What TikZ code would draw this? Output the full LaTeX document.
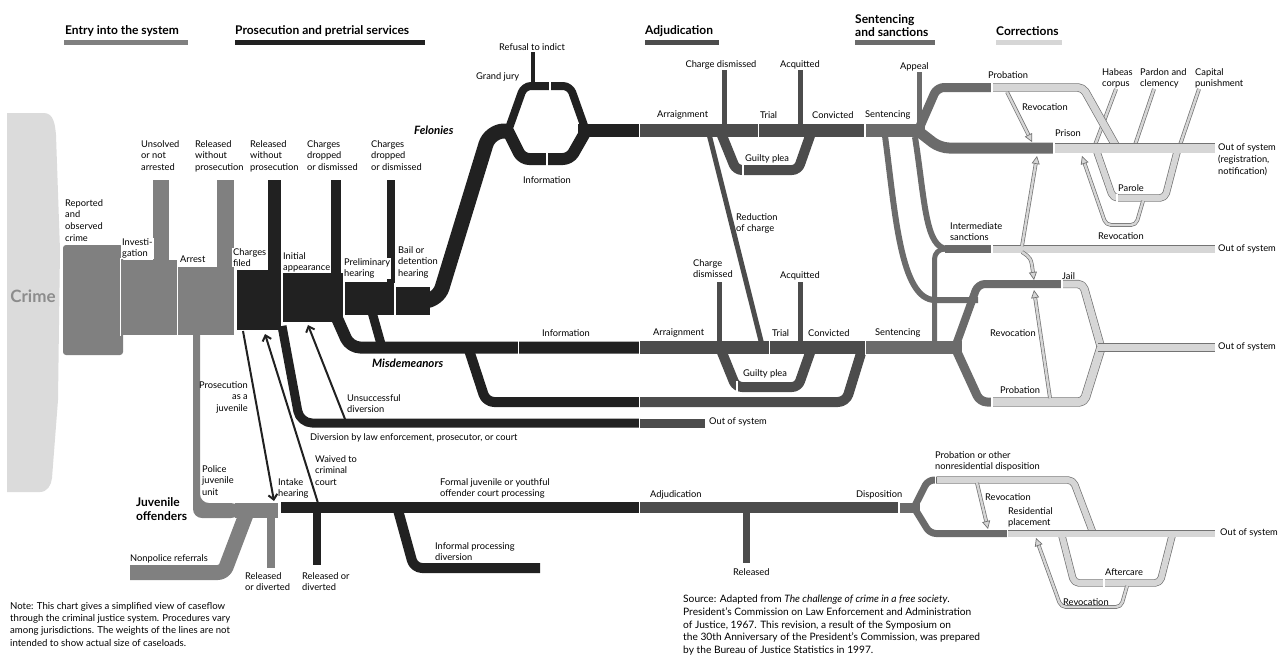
\documentclass[tikz,border=0pt]{standalone}
\usepackage{fontspec}
\setmainfont{Lato}
\usetikzlibrary{arrows.meta}
\definecolor{cCrime}{gray}{0.86}
\definecolor{cCrimeText}{gray}{0.55}
\definecolor{cEntry}{gray}{0.5}
\definecolor{cPros}{gray}{0.13}
\definecolor{cAdj}{gray}{0.3}
\definecolor{cSent}{gray}{0.42}
\definecolor{cCorr}{gray}{0.84}
\definecolor{cEdge}{gray}{0.45}
\newcommand\labfont{\fontsize{9.3}{11.8}\selectfont}
\newcommand\hdrfont{\bfseries\fontsize{12}{13.5}\selectfont}
\newcommand\notefont{\fontsize{9.6}{12.3}\selectfont}

\begin{document}
\begin{tikzpicture}[x=1pt, y=-1pt, line join=round, line cap=butt,
  lab/.style={font=\labfont, inner sep=0pt, align=left, anchor=north west},
  blab/.style={lab, fill=white, inner xsep=1pt, xshift=-1pt},
  hdr/.style={font=\hdrfont, inner sep=0pt, anchor=west},
  flab/.style={font=\bfseries\itshape\fontsize{11.5}{13}\selectfont, inner sep=0pt, anchor=north west},
  corr/.style={draw=cEdge, line width=0.7pt, double=cCorr, double distance=#1, rounded corners=5pt},
  carrow/.style={corr=2.4pt, -{Triangle[open, length=8pt, width=8pt, line width=0.7pt, fill=cCorr]}},
  arr/.style={draw=cPros, line width=2pt, -{Straight Barb[length=5pt, width=9pt]}}]
\def \W{1282}
\def \H{657}
\useasboundingbox (0,0) rectangle (\W,\H);

% headers
\node[hdr] (hEntry) at (65,31) {Entry into the system};
\fill[cEntry] (64,40) rectangle (188,45);
\node[hdr] (hPros) at (235,31) {Prosecution and pretrial services};
\fill[cPros] (235,40) rectangle (425,45);
\node[hdr] (hAdj) at (645,31) {Adjudication};
\fill[cAdj] (645,40) rectangle (719,45);
\node[hdr, anchor=south west, align=left] (hSent) at (855,37) {Sentencing\\and sanctions};
\fill[cSent] (855,40) rectangle (935,45);
\node[hdr] (hCorr) at (996,31) {Corrections};
\fill[cCorr] (996,40) rectangle (1062,45);

% crime
\fill[cCrime] (7,113) -- (44,113) to[out=0,in=95] (56,135) -- (60,250) -- (58,400) -- (52,478) to[out=-95,in=0] (40,492) -- (7,492) -- cycle;
\node[font=\bfseries\fontsize{17}{20}\selectfont, text=cCrimeText, inner sep=0pt] (crime) at (33,296) {Crime};

% entry into the system
\fill[cEntry, rounded corners=3pt] (63,245) rectangle (123,355);
\fill[cEntry] (121,260) rectangle (177,335);
\fill[cEntry] (153,180) rectangle (169,262);
\fill[cEntry, rounded corners=9pt] (193,310) -- (193,518) -- (240,518) -- (240,503) -- (200,503) -- (200,310) -- cycle;
\fill[cEntry] (235,503) rectangle (278,518);
\fill[cEntry] (178,267) rectangle (234,335);
\fill[cEntry] (217,180) rectangle (234,268);
\draw[cEntry, line width=15pt, rounded corners=6pt] (130,572.5) -- (224,572.5) -- (247,512);
\fill[cEntry] (267,516) rectangle (275,568);

% prosecution and pretrial services
\fill[cPros] (237,270) rectangle (281,330);
\fill[cPros] (268,180) rectangle (281,271);
\fill[cPros] (283,273) rectangle (343,322);
\fill[cPros] (331,180) rectangle (341,274);
\fill[cPros] (345,282) rectangle (394,315);
\fill[cPros] (387,180) rectangle (395,283);
\fill[cPros] (396,287) rectangle (430,315);
\draw[cPros, line width=15pt, rounded corners=14pt] (420,301) -- (438,301) -- (490,131) -- (512,131);
\draw[cPros, line width=12pt, rounded corners=10pt] (336,316) -- (350,347.5) -- (640,347.5);
\draw[cPros, line width=9pt] (372,312) -- (381,344);
\draw[cPros, line width=9pt, rounded corners=12pt] (282,326) -- (300,423) -- (640,423);
\draw[cAdj, line width=9pt] (640,423) -- (705,423);
\draw[cPros, line width=8pt, rounded corners=7pt] (508,131) -- (524,86) -- (570,86) -- (586,131);
\draw[cPros, line width=12pt, rounded corners=7pt] (508,131) -- (522,159) -- (570,159) -- (586,131);
\draw[cPros, line width=4pt] (533,52) -- (533,84);
\draw[cPros, line width=13pt] (578,130.5) -- (640,130.5);
\draw[cPros, line width=10pt, rounded corners=8pt] (469,350) -- (486,402) -- (640,402);

% adjudication
\draw[cAdj, line width=13pt] (640,130.5) -- (864,130.5);
\draw[cAdj, line width=5pt] (724.5,70) -- (724.5,128);
\draw[cAdj, line width=5pt] (800.5,70) -- (800.5,128);
\draw[cAdj, line width=10pt, rounded corners=6pt] (721,133) -- (736,170) -- (798,170) -- (811,133);
\draw[cAdj, line width=5pt] (709,134) -- (762,345);
\draw[cAdj, line width=13pt] (640,347.5) -- (865,347.5);
\draw[cAdj, line width=5pt] (719.5,282) -- (719.5,344);
\draw[cAdj, line width=5pt] (800.5,282) -- (800.5,344);
\draw[cAdj, line width=10pt, rounded corners=6pt] (721,350) -- (736,387) -- (798,387) -- (811,350);
\draw[cAdj, line width=10pt, rounded corners=8pt] (640,402) -- (846,402) -- (862,350);

% juveniles
\draw[cPros, line width=11pt] (281,507.5) -- (640,507.5);
\draw[cAdj, line width=11pt] (640,507.5) -- (899,507.5);
\fill[cPros] (313,512) rectangle (321,565);
\draw[cPros, line width=10pt, rounded corners=8pt] (398,510) -- (414,568) -- (540,568);
\fill[cAdj] (743,512) rectangle (750,563);
\draw[cSent, line width=7pt, rounded corners=6pt] (914,507.5) -- (928,480) -- (937,480);
\draw[cSent, line width=7pt, rounded corners=6pt] (914,507.5) -- (930,533.5) -- (1007,533.5);
\draw[cSent, line width=10pt] (899,507.5) -- (920,507.5);
\draw[corr=6pt] (937,480) -- (1073,480) -- (1093,533);
\draw[corr=6pt] (1062,536) -- (1074,583) -- (1160,583) -- (1172,536);
\draw[carrow] (1127,586) -- (1121,607) -- (1061,607) -- (1036,538);
\draw[corr=6pt] (1008,533.5) -- (1215,533.5);
\draw[carrow] (977,483) -- (988,529);

% arrows
\draw[arr] (345,419) -- (308,325);
\draw[arr] (243,331) -- (274,501);
\draw[arr] (318,503) -- (265,334);

% sentencing and sanctions
\draw[cSent, line width=6pt] (885,136) .. controls (895,210) and (900,300) .. (935,300) -- (978,300);
\draw[cSent, line width=6pt] (915,137) .. controls (925,200) and (925,249) .. (948,249);
\draw[cSent, line width=13pt] (866,130.5) -- (925,130.5);
\draw[cSent, line width=5pt] (919.5,72) -- (919.5,128);
\draw[cSent, line width=9pt, rounded corners=7pt] (918,131) -- (937,87.5) -- (991,87.5);
\draw[cSent, line width=11pt, rounded corners=9pt] (918,131) -- (940,148) -- (1053,148);
\draw[cSent, line width=8pt] (945,249) -- (991,249);
\draw[cSent, line width=5pt, rounded corners=10pt] (934.5,346) -- (934.5,249) -- (950,249);
\draw[cSent, line width=8pt, rounded corners=7pt] (955,347.5) -- (978,284) -- (1061,284);
\draw[cSent, line width=9pt, rounded corners=7pt] (955,347.5) -- (980,402) -- (991,402);
\draw[cSent, line width=13pt] (866,347.5) -- (962,347.5);

% corrections
\draw[corr=6pt] (1097,152) -- (1113,198) -- (1165,198) -- (1177,152);
\draw[carrow] (1143,201) -- (1136,225) -- (1106,225) -- (1082,156);
\draw[corr=2.5pt] (1095,145) -- (1116,89);
\draw[corr=2.5pt] (1135,145) -- (1154,89);
\draw[corr=2.5pt] (1180,145) -- (1199,89);
\draw[corr=7pt] (993,87.5) -- (1083,87.5) -- (1117,148);
\draw[corr=9pt] (1055,148) -- (1215,148);
\draw[carrow] (1007,92) -- (1032,142);
\draw[corr=7pt] (993,249) -- (1215,249);
\draw[carrow] (1022,252) .. controls (1031,258) .. (1034,280);
\draw[carrow] (1022,246) -- (1037,156);
\draw[corr=7pt] (1063,284) -- (1083,284) -- (1101,347.5);
\draw[corr=8pt] (993,402) -- (1084,402) -- (1101,347.5);
\draw[corr=7pt] (1098,347.5) -- (1215,347.5);
\draw[carrow] (1050,398) -- (1034,290);

% breaks between stages
\foreach \x/\ya/\yb in {120.5/258/336, 177.5/258/336, 550/80/92, 547/152/166, 639.5/123/138, 758.5/123/138, 864.5/123/138,
  743/164/176, 518.5/340/355, 639.5/340/355, 769.5/340/355, 865.5/340/355, 737/381/393, 639.5/396/408, 639.5/418/428,
  639.5/501/514, 899/501/514, 991.5/82/93, 1053.5/142/154, 991.5/244/254, 1061.5/279/289, 991.5/396/408,
  935.5/476/484, 1007.5/529/538, 1104/579/587, 1117/194/202}
  \draw[white, line width=1.5pt] (\x,\ya) -- (\x,\yb);

% labels, entry and pretrial
\node[lab] (lUnsolved) at (141,140) {Unsolved\\or not\\arrested};
\node[lab] (lRel1) at (195,140) {Released\\without\\prosecution};
\node[lab] (lRel2) at (250,140) {Released\\without\\prosecution};
\node[lab] (lDrop1) at (307,140) {Charges\\dropped\\or dismissed};
\node[lab] (lDrop2) at (371,140) {Charges\\dropped\\or dismissed};
\node[lab] (lReported) at (65,199) {Reported\\and\\observed\\crime};
\node[blab] (lInvest) at (122,238) {Investi-\\gation};
\node[lab] (lArrest) at (180,256) {Arrest};
\node[blab] (lFiled) at (233,248) {Charges\\filed};
\node[lab] (lInitial) at (283,252) {Initial\\appearance};
\node[blab] (lPrelim) at (344,258) {Preliminary\\hearing};
\node[lab] (lBail) at (398,246) {Bail or\\detention\\hearing};
\node[flab] (lFel) at (414,126) {Felonies};
\node[flab] (lMisd) at (372,359) {Misdemeanors};
\node[lab, align=right, anchor=north east] (lProsJuv) at (248,381) {Prosecution\\as a\\juvenile};
\node[lab] (lUnsucc) at (347,394) {Unsuccessful\\diversion};
\node[lab] (lDiv) at (310,433) {Diversion by law enforcement, prosecutor, or court};
\node[lab] (lOut1) at (709,418) {Out of system};

% labels, juveniles
\node[lab] (lPolice) at (202,465) {Police\\juvenile\\unit};
\node[flab, font=\bfseries\fontsize{12}{14}\selectfont, align=left] (lJuv) at (136,497) {Juvenile\\offenders};
\node[lab] (lIntake) at (278,478) {Intake\\hearing};
\node[lab] (lWaived) at (315,455) {Waived to\\criminal\\court};
\node[lab] (lNonpol) at (130,554) {Nonpolice referrals};
\node[lab] (lRelDiv1) at (245,572) {Released\\or diverted};
\node[lab] (lRelDiv2) at (302,572) {Released or\\diverted};
\node[lab] (lInformal) at (435,542) {Informal processing\\diversion};
\node[lab] (lFormal) at (440,478) {Formal juvenile or youthful\\offender court processing};
\node[lab] (lJAdj) at (650,490) {Adjudication};
\node[lab] (lReleased) at (733,568) {Released};
\node[lab] (lDisp) at (856,490) {Disposition};

% labels, adjudication
\node[lab, anchor=north] (lRefusal) at (532,43) {Refusal to indict};
\node[lab] (lGrand) at (476,72) {Grand jury};
\node[lab, anchor=north] (lInfo1) at (547,176) {Information};
\node[lab, anchor=north] (lCD1) at (721,60) {Charge dismissed};
\node[lab, anchor=north] (lAcq1) at (800,60) {Acquitted};
\node[lab] (lArr1) at (657,111) {Arraignment};
\node[lab] (lTrial1) at (760,111) {Trial};
\node[lab] (lConv1) at (812,111) {Convicted};
\node[lab] (lSent1) at (865,111) {Sentencing};
\node[lab] (lGuilty1) at (745,154) {Guilty plea};
\node[lab] (lReduct) at (736,213) {Reduction\\of charge};
\node[lab, anchor=north] (lInfo2) at (566,329) {Information};
\node[lab] (lArr2) at (653,329) {Arraignment};
\node[lab] (lCD2) at (693,259) {Charge\\dismissed};
\node[lab] (lAcq2) at (780,271) {Acquitted};
\node[lab] (lTrial2) at (772,329) {Trial};
\node[lab] (lConv2) at (808,329) {Convicted};
\node[lab] (lGuilty2) at (743,369) {Guilty plea};
\node[lab] (lSent2) at (875,329) {Sentencing};

% labels, sentencing and corrections
\node[lab] (lAppeal) at (900,62) {Appeal};
\node[lab] (lProb1) at (988,71) {Probation};
\node[lab] (lRev1) at (1022,103) {Revocation};
\node[lab] (lPrison) at (1055,130) {Prison};
\node[lab] (lHabeas) at (1102,68) {Habeas\\corpus};
\node[lab] (lPardon) at (1140,68) {Pardon and\\clemency};
\node[lab] (lCapital) at (1195,68) {Capital\\punishment};
\node[lab] (lOut2) at (1218,144) {Out of system\\(registration,\\notification)};
\node[lab] (lParole) at (1118,184) {Parole};
\node[lab] (lRev2) at (1098,232) {Revocation};
\node[lab] (lInter) at (950,222) {Intermediate\\sanctions};
\node[lab] (lOut3) at (1218,245) {Out of system};
\node[lab] (lJail) at (1062,272) {Jail};
\node[lab] (lRev3) at (990,329) {Revocation};
\node[lab] (lOut4) at (1218,343) {Out of system};
\node[lab] (lProb2) at (1000,386) {Probation};
\node[lab] (lProbOther) at (935,451) {Probation or other\\nonresidential disposition};
\node[lab] (lRev4) at (985,493) {Revocation};
\node[lab] (lResid) at (1008,507) {Residential\\placement};
\node[lab] (lOut5) at (1220,529) {Out of system};
\node[lab] (lAfter) at (1105,569) {Aftercare};
\node[lab] (lRev5) at (1063,598) {Revocation};

% notes
\node[lab, font=\notefont] (lNote) at (10,602) {Note: This chart gives a simplified view of caseflow\\through the criminal justice system. Procedures vary\\among jurisdictions. The weights of the lines are not\\intended to show actual size of caseloads.};
\node[lab, font=\fontsize{10.2}{12.7}\selectfont] (lSource) at (683,595) {Source: Adapted from \textit{The challenge of crime in a free society}.\\President's Commission on Law Enforcement and Administration\\of Justice, 1967. This revision, a result of the Symposium on\\the 30th Anniversary of the President's Commission, was prepared\\by the Bureau of Justice Statistics in 1997.};
\end{tikzpicture}
\end{document}
